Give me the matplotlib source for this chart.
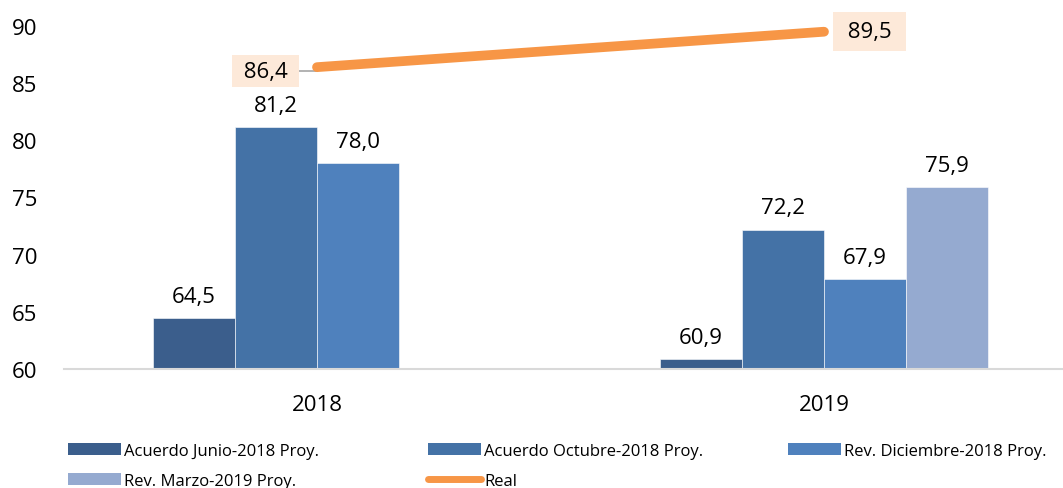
import numpy as np
import matplotlib
import matplotlib.pyplot as plt
from matplotlib.patches import Patch
from matplotlib.lines import Line2D

matplotlib.rcParams['font.family'] = ['Open Sans', 'DejaVu Sans']

# data
years = ['2018', '2019']
junio = [64.5, 60.9]
octubre = [81.2, 72.2]
diciembre = [78.0, 67.9]
marzo = [np.nan, 75.9]
real = [86.4, 89.5]

series = [
    ('Acuerdo Junio-2018 Proy.', junio, '#3B5E8C'),
    ('Acuerdo Octubre-2018 Proy.', octubre, '#4472A6'),
    ('Rev. Diciembre-2018 Proy.', diciembre, '#4F81BD'),
    ('Rev. Marzo-2019 Proy.', marzo, '#95AAD0'),
]

def fmt(v):
    return f"{v:.1f}".replace('.', ',')

fig = plt.figure(figsize=(10.63, 4.89), dpi=100)
ax = fig.add_axes([63.5/1063, 1 - 370/489, 1014/1063, 343/489])

x = np.arange(len(years))
w = 82/507
offs = [-1.5, -0.5, 0.5, 1.5]
handles = []
for (name, vals, col), o in zip(series, offs):
    ax.bar(x + o*w, vals, w, color=col, edgecolor='white', linewidth=0.4)
    for xi, v in zip(x, vals):
        if not np.isnan(v):
            ax.annotate(fmt(v), (xi + o*w, v), xytext=(0, 15.5), textcoords='offset points',
                        ha='center', va='center', fontsize=16)
    handles.append(Patch(facecolor=col, label=name))

ax.plot(x, real, color='#F79646', linewidth=7, solid_capstyle='round', zorder=5)
box = dict(boxstyle='square,pad=0.25', facecolor='#FDE9D9', edgecolor='none')
ax.annotate(' ' + fmt(real[0]) + ' ', (x[0], real[0]), xytext=(-37, -3), textcoords='offset points',
            ha='center', va='center', fontsize=16, bbox=box,
            arrowprops=dict(arrowstyle='-', color='#A6A6A6', lw=1.2,
                            connectionstyle='angle,angleA=0,angleB=90,rad=0', shrinkA=0, shrinkB=2))
ax.annotate(' ' + fmt(real[1]) + ' ', (x[1], real[1]), xytext=(33, 0), textcoords='offset points',
            ha='center', va='center', fontsize=16,
            bbox=dict(boxstyle='square,pad=0.4', facecolor='#FDE9D9', edgecolor='none'))
handles.append(Line2D([0], [0], color='#F79646', linewidth=5, solid_capstyle='round', label='Real'))

ax.set_xlim(-0.5, 1.5)
ax.set_ylim(60, 90)
ax.set_yticks(range(60, 91, 5))
ax.set_xticks(x)
ax.set_xticklabels(years)
ax.tick_params(axis='both', length=0, labelsize=16)
ax.tick_params(axis='y', pad=19)
ax.tick_params(axis='x', pad=18)
for s in ['top', 'right', 'left']:
    ax.spines[s].set_visible(False)
ax.spines['bottom'].set_color('#D9D9D9')
ax.spines['bottom'].set_linewidth(1.5)

# legend in three columns, row-major like the original
cols = [[handles[0], handles[3]], [handles[1], handles[4]], [handles[2]]]
for xp, hs in zip([72, 432, 792], cols):
    fig.legend(handles=hs, loc='upper left', bbox_to_anchor=(xp/1063 - 0.004, 1 - 444/489),
               frameon=False, fontsize=12, handlelength=3.2, handleheight=0.75,
               handletextpad=0.2, labelspacing=0.85, borderpad=0, borderaxespad=0)

fig.savefig('out.png', dpi=100)
